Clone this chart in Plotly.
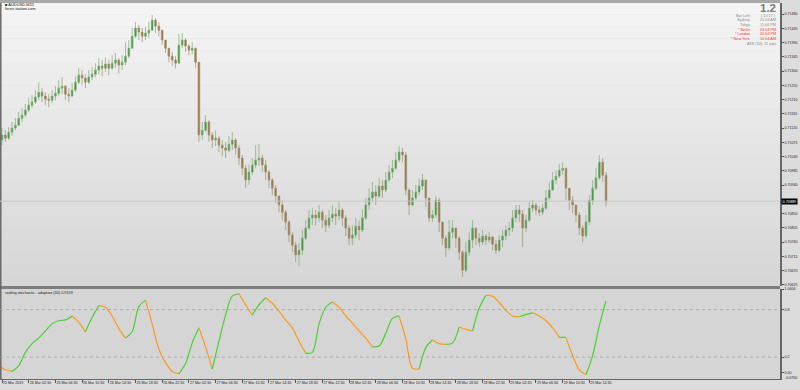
import plotly.graph_objects as go
import pandas as pd

# ---------------- data ----------------
symbol_title = "■ AUDUSD,M15"
site_title = "forex-station.com"
indicator_title = "roofing stochastic - adaptive (30) 0.9159"

open0 = 0.71082
close = [0.71098, 0.71088, 0.71107, 0.71120, 0.71129, 0.71151, 0.71161, 0.71177, 0.71192, 0.71202,
         0.71218, 0.71233, 0.71221, 0.71211, 0.71208, 0.71221, 0.71230, 0.71246, 0.71252, 0.71227,
         0.71221, 0.71240, 0.71265, 0.71287, 0.71278, 0.71265, 0.71281, 0.71290, 0.71303, 0.71316,
         0.71309, 0.71322, 0.71309, 0.71325, 0.71335, 0.71319, 0.71328, 0.71347, 0.71372, 0.71410,
         0.71436, 0.71423, 0.71410, 0.71420, 0.71429, 0.71461, 0.71442, 0.71429, 0.71398, 0.71372,
         0.71347, 0.71335, 0.71325, 0.71382, 0.71398, 0.71379, 0.71366, 0.71372, 0.71328, 0.71098,
         0.71113, 0.71139, 0.71098, 0.71082, 0.71088, 0.71066, 0.71057, 0.71050, 0.71069, 0.71082,
         0.71057, 0.71025, 0.70993, 0.70956, 0.70981, 0.71003, 0.71019, 0.71025, 0.71003, 0.70981,
         0.70956, 0.70930, 0.70905, 0.70877, 0.70854, 0.70823, 0.70782, 0.70750, 0.70719, 0.70734,
         0.70772, 0.70804, 0.70836, 0.70845, 0.70836, 0.70854, 0.70829, 0.70813, 0.70836, 0.70848,
         0.70842, 0.70861, 0.70836, 0.70804, 0.70772, 0.70782, 0.70810, 0.70798, 0.70836, 0.70877,
         0.70899, 0.70918, 0.70905, 0.70937, 0.70924, 0.70956, 0.70981, 0.70993, 0.71019, 0.71044,
         0.71035, 0.70924, 0.70877, 0.70899, 0.70918, 0.70937, 0.70956, 0.70899, 0.70836, 0.70845,
         0.70892, 0.70823, 0.70772, 0.70741, 0.70791, 0.70804, 0.70772, 0.70728, 0.70671, 0.70728,
         0.70766, 0.70804, 0.70772, 0.70760, 0.70779, 0.70766, 0.70776, 0.70753, 0.70734, 0.70766,
         0.70779, 0.70798, 0.70804, 0.70836, 0.70861, 0.70848, 0.70804, 0.70829, 0.70867, 0.70877,
         0.70861, 0.70854, 0.70867, 0.70899, 0.70924, 0.70956, 0.70968, 0.70987, 0.70993, 0.70930,
         0.70892, 0.70877, 0.70845, 0.70804, 0.70779, 0.70823, 0.70892, 0.70930, 0.70962, 0.71012,
         0.70971, 0.70889]
high = [0.71120, 0.71113, 0.71123, 0.71139, 0.71151, 0.71170, 0.71183, 0.71196, 0.71215, 0.71224,
        0.71240, 0.71265, 0.71246, 0.71233, 0.71227, 0.71240, 0.71252, 0.71271, 0.71281, 0.71256,
        0.71246, 0.71262, 0.71284, 0.71309, 0.71303, 0.71290, 0.71303, 0.71312, 0.71325, 0.71341,
        0.71335, 0.71344, 0.71335, 0.71350, 0.71357, 0.71341, 0.71350, 0.71391, 0.71398, 0.71436,
        0.71455, 0.71445, 0.71436, 0.71439, 0.71455, 0.71477, 0.71467, 0.71455, 0.71423, 0.71398,
        0.71372, 0.71360, 0.71347, 0.71417, 0.71420, 0.71404, 0.71385, 0.71391, 0.71372, 0.71316,
        0.71139, 0.71161, 0.71145, 0.71107, 0.71113, 0.71095, 0.71082, 0.71076, 0.71095, 0.71107,
        0.71088, 0.71066, 0.71035, 0.71003, 0.71003, 0.71025, 0.71066, 0.71069, 0.71035, 0.71019,
        0.70987, 0.70962, 0.70940, 0.70908, 0.70892, 0.70861, 0.70829, 0.70791, 0.70760, 0.70757,
        0.70798, 0.70829, 0.70861, 0.70867, 0.70861, 0.70877, 0.70861, 0.70845, 0.70861, 0.70877,
        0.70867, 0.70886, 0.70867, 0.70845, 0.70813, 0.70813, 0.70836, 0.70829, 0.70861, 0.70899,
        0.70930, 0.70949, 0.70940, 0.70962, 0.70956, 0.70981, 0.71003, 0.71019, 0.71044, 0.71063,
        0.71057, 0.71044, 0.70930, 0.70924, 0.70940, 0.70962, 0.70975, 0.70956, 0.70892, 0.70861,
        0.70905, 0.70899, 0.70823, 0.70782, 0.70829, 0.70829, 0.70804, 0.70779, 0.70734, 0.70760,
        0.70791, 0.70829, 0.70804, 0.70788, 0.70798, 0.70785, 0.70791, 0.70779, 0.70766, 0.70782,
        0.70798, 0.70813, 0.70823, 0.70861, 0.70877, 0.70877, 0.70861, 0.70845, 0.70886, 0.70892,
        0.70883, 0.70873, 0.70880, 0.70924, 0.70949, 0.70981, 0.70987, 0.71006, 0.71012, 0.70993,
        0.70924, 0.70905, 0.70877, 0.70854, 0.70813, 0.70845, 0.70908, 0.70956, 0.70993, 0.71035,
        0.71025, 0.70981]
low = [0.71066, 0.71076, 0.71082, 0.71095, 0.71113, 0.71126, 0.71139, 0.71155, 0.71170, 0.71183,
       0.71196, 0.71208, 0.71202, 0.71192, 0.71186, 0.71199, 0.71208, 0.71221, 0.71227, 0.71208,
       0.71202, 0.71218, 0.71233, 0.71259, 0.71256, 0.71246, 0.71259, 0.71271, 0.71281, 0.71290,
       0.71284, 0.71297, 0.71287, 0.71303, 0.71309, 0.71293, 0.71303, 0.71319, 0.71341, 0.71372,
       0.71404, 0.71398, 0.71391, 0.71398, 0.71404, 0.71429, 0.71420, 0.71410, 0.71382, 0.71357,
       0.71328, 0.71316, 0.71309, 0.71328, 0.71372, 0.71360, 0.71350, 0.71353, 0.71309, 0.71076,
       0.71082, 0.71107, 0.71076, 0.71057, 0.71063, 0.71044, 0.71031, 0.71025, 0.71044, 0.71050,
       0.71035, 0.71003, 0.70971, 0.70930, 0.70940, 0.70971, 0.70993, 0.71000, 0.70981, 0.70956,
       0.70930, 0.70908, 0.70883, 0.70854, 0.70829, 0.70798, 0.70760, 0.70728, 0.70697, 0.70684,
       0.70719, 0.70766, 0.70798, 0.70813, 0.70810, 0.70823, 0.70804, 0.70791, 0.70804, 0.70823,
       0.70813, 0.70829, 0.70810, 0.70779, 0.70750, 0.70750, 0.70772, 0.70766, 0.70791, 0.70829,
       0.70861, 0.70886, 0.70877, 0.70899, 0.70899, 0.70918, 0.70949, 0.70962, 0.70987, 0.71012,
       0.71012, 0.70908, 0.70845, 0.70873, 0.70892, 0.70908, 0.70924, 0.70870, 0.70823, 0.70823,
       0.70836, 0.70791, 0.70750, 0.70712, 0.70734, 0.70772, 0.70741, 0.70703, 0.70649, 0.70665,
       0.70716, 0.70741, 0.70750, 0.70744, 0.70750, 0.70750, 0.70757, 0.70734, 0.70722, 0.70728,
       0.70744, 0.70766, 0.70779, 0.70791, 0.70823, 0.70823, 0.70744, 0.70791, 0.70823, 0.70854,
       0.70845, 0.70842, 0.70845, 0.70861, 0.70892, 0.70930, 0.70943, 0.70962, 0.70971, 0.70892,
       0.70861, 0.70851, 0.70823, 0.70782, 0.70760, 0.70772, 0.70813, 0.70877, 0.70924, 0.70956,
       0.70949, 0.70873]
bar_times = pd.date_range("2019-03-25 22:30", periods=len(close), freq="30min")

osc = [0.10, 0.04, 0.02, 0.09, 0.26, 0.37, 0.44, 0.53, 0.62, 0.66,
       0.67, 0.72, 0.64, 0.52, 0.70, 0.85, 0.83, 0.72, 0.56, 0.44,
       0.52, 0.84, 0.92, 0.62, 0.30, 0.13, 0.02, -0.01, 0.12, 0.38,
       0.57, 0.33, 0.05, 0.40, 0.73, 0.97, 1.00, 0.86, 0.73, 0.86,
       0.95, 0.88, 0.78, 0.67, 0.57, 0.40, 0.25, 0.26, 0.62, 0.83,
       0.90, 0.83, 0.72, 0.63, 0.53, 0.44, 0.33, 0.34, 0.50, 0.69,
       0.72, 0.43, 0.06, 0.05, 0.32, 0.42, 0.37, 0.36, 0.38, 0.58,
       0.55, 0.53, 0.82, 0.98, 0.97, 0.89, 0.79, 0.72, 0.71, 0.74,
       0.76, 0.72, 0.66, 0.57, 0.45, 0.45, 0.22, 0.04, -0.02, 0.22,
       0.60, 0.91]
osc_times = pd.date_range("2019-03-25 22:00", periods=len(osc), freq="h")

price_ticks = [0.71480, 0.71435, 0.71390, 0.71345, 0.71300, 0.71255, 0.71210, 0.71165,
               0.71120, 0.71075, 0.71030, 0.70985, 0.70940, 0.70850, 0.70805, 0.70760,
               0.70715, 0.70670, 0.70625]
osc_ticks = [1.0604, 0.8, 0.2, 0.0]
osc_tick_labels = ["1.0604", "0.8", "0.2", "0.00"]
osc_min_label = "-0.0760"
osc_levels = [0.8, 0.2]

time_ticks = ["2019-03-25 22:30", "2019-03-26 02:30", "2019-03-26 06:30", "2019-03-26 10:30",
              "2019-03-26 14:30", "2019-03-26 18:30", "2019-03-26 22:30", "2019-03-27 02:30",
              "2019-03-27 06:30", "2019-03-27 10:30", "2019-03-27 14:30", "2019-03-27 18:30",
              "2019-03-27 22:30", "2019-03-28 02:30", "2019-03-28 06:30", "2019-03-28 10:30",
              "2019-03-28 14:30", "2019-03-28 18:30", "2019-03-28 22:30", "2019-03-29 02:30",
              "2019-03-29 06:30", "2019-03-29 10:30", "2019-03-29 14:30"]
time_labels = ["25 Mar 2019", "26 Mar 02:30", "26 Mar 06:30", "26 Mar 10:30", "26 Mar 14:30",
               "26 Mar 18:30", "26 Mar 22:30", "27 Mar 02:30", "27 Mar 06:30", "27 Mar 10:30",
               "27 Mar 14:30", "27 Mar 18:30", "27 Mar 22:30", "28 Mar 02:30", "28 Mar 06:30",
               "28 Mar 10:30", "28 Mar 14:30", "28 Mar 18:30", "28 Mar 22:30", "29 Mar 02:30",
               "29 Mar 06:30", "29 Mar 10:30", "29 Mar 14:30"]

info_big = "1.2"
info_labels = ["Bar Left:", "Sydney", "Tokyo", "* Berlin", "* London", "* New York"]
info_values = ["( 10:17 )", "01:04 AM", "11:04 PM", "03:04 PM", "02:04 PM", "10:04 AM"]
info_red = [False, False, False, True, True, True]
info_atr = "ATR (20): 11 pips"

# ---------------- layout helpers ----------------
W, H = 800, 390
ML, MR, MT, MB = 0, 20, 3, 11
PW, PH = W - ML - MR, H - MT - MB
MAIN_BOTTOM_PX = 286
SUB_TOP_PX = 289


def px(x):
    return (x - ML) / PW


def py(y):
    return (H - MB - y) / PH


main_dom = [py(MAIN_BOTTOM_PX), 1.0]
sub_dom = [0.0, py(SUB_TOP_PX)]

FONT = "Liberation Sans, Arial, sans-serif"
GRAY_TXT = "#8a8a8a"
RED_TXT = "#ff3030"

opens = [open0] + close[:-1]
high_c = [max(h, o, c) for h, o, c in zip(high, opens, close)]
low_c = [min(l, o, c) for l, o, c in zip(low, opens, close)]

fig = go.Figure()

fig.add_trace(go.Candlestick(
    x=bar_times, open=opens, high=high_c, low=low_c, close=close,
    increasing=dict(line=dict(color="#7fa776", width=0.7), fillcolor="#339b33"),
    decreasing=dict(line=dict(color="#9a9070", width=0.7), fillcolor="#a0703a"),
    whiskerwidth=0, showlegend=False, hoverinfo="skip", xaxis="x", yaxis="y"))

# oscillator coloured by direction
runs = []
start = 0
cur = None
for i in range(1, len(osc)):
    d = osc[i] >= osc[i - 1]
    if cur is None:
        cur = d
    elif d != cur:
        runs.append((start, i - 1, cur))
        start = i - 1
        cur = d
runs.append((start, len(osc) - 1, cur))
for s, e, up in runs:
    fig.add_trace(go.Scatter(
        x=osc_times[s:e + 1], y=osc[s:e + 1], mode="lines",
        line=dict(color="#4ccf33" if up else "#ff9a1a", width=1.2, shape="spline", smoothing=0.9),
        showlegend=False, hoverinfo="skip", xaxis="x2", yaxis="y2"))

shapes = []
# gradient background of the main window
n_bands = 24
top_c, bot_c = (244, 244, 244), (214, 214, 214)
for b in range(n_bands):
    f = b / (n_bands - 1)
    c = tuple(int(round(top_c[k] + (bot_c[k] - top_c[k]) * f)) for k in range(3))
    y1 = main_dom[1] - (main_dom[1] - main_dom[0]) * b / n_bands
    y0 = main_dom[1] - (main_dom[1] - main_dom[0]) * (b + 1) / n_bands
    shapes.append(dict(type="rect", xref="paper", yref="paper", x0=0, x1=1, y0=y0, y1=y1,
                       fillcolor="rgb(%d,%d,%d)" % c, line=dict(width=0), layer="below"))
# subwindow background
shapes.append(dict(type="rect", xref="paper", yref="paper", x0=0, x1=1, y0=sub_dom[0], y1=sub_dom[1],
                   fillcolor="#d5d5d5", line=dict(width=0), layer="below"))
# separator bar
shapes.append(dict(type="rect", xref="paper", yref="paper", x0=0, x1=1, y0=sub_dom[1], y1=main_dom[0],
                   fillcolor="#7d7d7d", line=dict(width=0)))
# top border strip
shapes.append(dict(type="rect", xref="paper", yref="paper", x0=0, x1=1, y0=1, y1=py(0),
                   fillcolor="#a9a9a9", line=dict(width=0)))
# left border
shapes.append(dict(type="line", xref="paper", yref="paper", x0=0.001, x1=0.001, y0=0, y1=1,
                   line=dict(color="#6a6a6a", width=1.5)))
# current price line
shapes.append(dict(type="line", xref="paper", yref="y", x0=0, x1=1, y0=close[-1], y1=close[-1],
                   line=dict(color="#c8c8c8", width=1)))
# oscillator levels
for lv in osc_levels:
    shapes.append(dict(type="line", xref="paper", yref="y2", x0=0, x1=1, y0=lv, y1=lv,
                       line=dict(color="#a5a5a5", width=0.8, dash="dot")))

annotations = []
annotations.append(dict(text=symbol_title, x=px(3), y=py(4.5), xref="paper", yref="paper",
                        xanchor="left", yanchor="middle", showarrow=False,
                        font=dict(family=FONT, size=4, color="#222")))
annotations.append(dict(text=site_title, x=px(3), y=py(8.5), xref="paper", yref="paper",
                        xanchor="left", yanchor="middle", showarrow=False,
                        font=dict(family=FONT, size=4, color="#222")))
annotations.append(dict(text=indicator_title, x=px(3), y=py(292.5), xref="paper", yref="paper",
                        xanchor="left", yanchor="middle", showarrow=False,
                        font=dict(family=FONT, size=3.8, color="#222")))
annotations.append(dict(text="<b>%s</b>" % info_big, x=px(778), y=py(8), xref="paper", yref="paper",
                        xanchor="right", yanchor="middle", showarrow=False,
                        font=dict(family=FONT, size=11.5, color="#7a7a7a")))
for j, (lab, val, red) in enumerate(zip(info_labels, info_values, info_red)):
    yy = 15.7 + 4.65 * j
    col = RED_TXT if red else GRAY_TXT
    annotations.append(dict(text=lab, x=px(752), y=py(yy), xref="paper", yref="paper",
                            xanchor="right", yanchor="middle", showarrow=False,
                            font=dict(family=FONT, size=3.8, color=col)))
    annotations.append(dict(text=val, x=px(778), y=py(yy), xref="paper", yref="paper",
                            xanchor="right", yanchor="middle", showarrow=False,
                            font=dict(family=FONT, size=3.8, color=col)))
annotations.append(dict(text=info_atr, x=px(778), y=py(15.7 + 4.65 * 6), xref="paper", yref="paper",
                        xanchor="right", yanchor="middle", showarrow=False,
                        font=dict(family=FONT, size=3.8, color=GRAY_TXT)))
# current price box
annotations.append(dict(text="%.5f" % close[-1], x=1.0, y=close[-1], xref="paper", yref="y",
                        xanchor="left", yanchor="middle", showarrow=False, xshift=1,
                        bgcolor="#000000", borderpad=0.5,
                        font=dict(family=FONT, size=3.8, color="#ffffff")))
annotations.append(dict(text=osc_min_label, x=1.0, y=py(377.5), xref="paper", yref="paper",
                        xanchor="left", yanchor="middle", showarrow=False, xshift=3,
                        font=dict(family=FONT, size=3.6, color="#222")))

x_range = ["2019-03-25 22:12", "2019-03-30 19:04"]

fig.update_layout(
    width=W, height=H,
    margin=dict(l=ML, r=MR, t=MT, b=MB),
    paper_bgcolor="#dcdcdc", plot_bgcolor="rgba(0,0,0,0)",
    shapes=shapes, annotations=annotations,
    font=dict(family=FONT, size=3.6, color="#222"),
    xaxis=dict(domain=[0, 1], anchor="y", type="date", range=x_range, showticklabels=False,
               showgrid=False, zeroline=False, rangeslider=dict(visible=False), ticks=""),
    xaxis2=dict(domain=[0, 1], anchor="y2", type="date", range=x_range, matches="x",
                tickvals=time_ticks, ticktext=time_labels, ticks="outside", ticklen=3,
                tickangle=0, tickcolor="#555", ticklabelposition="outside right", showgrid=False,
                zeroline=False, showline=True, linecolor="#666", linewidth=1,
                tickfont=dict(family=FONT, size=3.6, color="#222")),
    yaxis=dict(domain=main_dom, anchor="x", side="right", range=[0.70621, 0.71515],
               tickvals=price_ticks, ticktext=["%.5f" % v for v in price_ticks],
               ticks="outside", ticklen=2, tickcolor="#555", showgrid=False, zeroline=False,
               showline=True, linecolor="#666", linewidth=1.5,
               tickfont=dict(family=FONT, size=3.6, color="#222")),
    yaxis2=dict(domain=sub_dom, anchor="x2", side="right", range=[-0.076, 1.0604],
                tickvals=osc_ticks, ticktext=osc_tick_labels,
                ticks="outside", ticklen=2, tickcolor="#555", showgrid=False, zeroline=False,
                showline=True, linecolor="#666", linewidth=1.5,
                tickfont=dict(family=FONT, size=3.6, color="#222")),
)

fig.write_html("out.html")
